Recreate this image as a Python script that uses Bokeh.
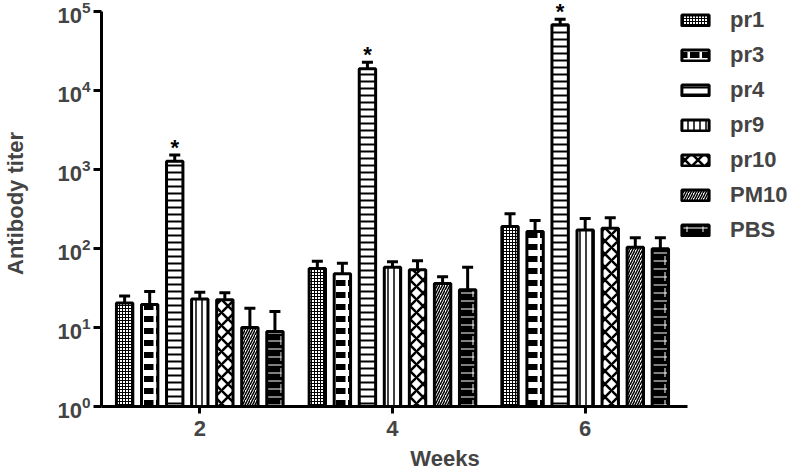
from bokeh.plotting import figure
from bokeh.models import Range1d, FixedTicker, Whisker, TeeHead, ColumnDataSource, Legend, LegendItem
from bokeh.embed import file_html
from bokeh.resources import INLINE
from bokeh.core.properties import value

# ---- data ----
weeks = [2, 4, 6]
groups = ["pr1", "pr3", "pr4", "pr9", "pr10", "PM10", "PBS"]
mean_pr1 = [20.5, 56, 190]
mean_pr3 = [19.5, 48, 164]
mean_pr4 = [1270, 18800, 68000]
mean_pr9 = [23, 58, 172]
mean_pr10 = [22.5, 54, 181]
mean_PM10 = [10, 36, 104]
mean_PBS = [8.9, 30, 99]
err_pr1 = [4.5, 13, 85]
err_pr3 = [9, 17, 62]
err_pr4 = [260, 4000, 12000]
err_pr9 = [5, 10, 68]
err_pr10 = [5, 16, 64]
err_PM10 = [7.5, 8, 33]
err_PBS = [7.1, 28, 38]
significant = ["pr4"]
y_ticks = [1, 10, 100, 1000, 10000, 100000]

means = [mean_pr1, mean_pr3, mean_pr4, mean_pr9, mean_pr10, mean_PM10, mean_PBS]
errs = [err_pr1, err_pr3, err_pr4, err_pr9, err_pr10, err_PM10, err_PBS]

# ---- styles (one or two hatch layers per series) ----
styles = {
    "pr1": [dict(fill_color="white", hatch_pattern="cross", hatch_scale=3, hatch_weight=1, hatch_color="black")],
    "pr3": [dict(fill_color="white", hatch_pattern="horizontal_dash", hatch_scale=12, hatch_weight=6, hatch_color="black")],
    "pr4": [dict(fill_color="white", hatch_pattern="horizontal_line", hatch_scale=7, hatch_weight=2, hatch_color="black")],
    "pr9": [dict(fill_color="white", hatch_pattern="vertical_line", hatch_scale=6, hatch_weight=1.5, hatch_color="black")],
    "pr10": [dict(fill_color="white", hatch_pattern="diagonal_cross", hatch_scale=13, hatch_weight=2.5, hatch_color="black")],
    "PM10": [dict(fill_color="white", hatch_pattern="right_diagonal_line", hatch_scale=5, hatch_weight=1.5, hatch_color="black")],
    "PBS": [dict(fill_color="black", hatch_pattern="horizontal_line", hatch_scale=8, hatch_weight=1, hatch_color="white"),
            dict(fill_alpha=0, hatch_pattern="vertical_dash", hatch_scale=16, hatch_weight=1, hatch_color="white")],
}

FONT = "Liberation Sans"
offset = 0.26
bar_w = 0.17

p = figure(width=788, height=473, y_axis_type="log",
           x_range=Range1d(0.98, 8.11), y_range=Range1d(1, 137900),
           output_backend="svg", toolbar_location=None,
           min_border_left=98, min_border_right=0, min_border_top=0, min_border_bottom=67)
p.outline_line_color = None
p.xgrid.visible = False
p.ygrid.visible = False

items = []
for i, g in enumerate(groups):
    xs = [w + (i - 3) * offset for w in weeks]
    ups = [m + e for m, e in zip(means[i], errs[i])]
    src = ColumnDataSource(dict(x=xs, top=means[i], upper=ups))
    rs = []
    for k, st in enumerate(styles[g]):
        last = k == len(styles[g]) - 1
        rs.append(p.vbar(x="x", top="top", bottom=1, width=bar_w, source=src,
                         line_color="black" if last else None, line_width=3, **st))
    items.append(LegendItem(label=g, renderers=rs))
    wk = Whisker(source=src, base="x", upper="upper", lower="top", dimension="height",
                 line_color="black", line_width=3,
                 upper_head=TeeHead(size=11, line_width=3, line_color="black"), lower_head=None)
    p.add_layout(wk)
    if g in significant:
        p.text(x=xs, y=ups, text=["*"] * len(xs), text_align="center", text_baseline="bottom",
               y_offset=5, text_font=value(FONT), text_font_style="bold", text_font_size="22px",
               text_color="black")

legend = Legend(items=items, location=(577, 163), orientation="vertical",
                glyph_width=34, glyph_height=14, label_height=22, spacing=9,
                label_standoff=18, padding=0, margin=0,
                label_text_font=FONT, label_text_font_style="bold", label_text_font_size="22px",
                background_fill_alpha=0, border_line_color=None)
p.add_layout(legend)

for ax in (p.xaxis, p.yaxis):
    ax.axis_line_width = 3
    ax.major_tick_line_width = 3
    ax.minor_tick_line_color = None
    ax.major_tick_in = 0
    ax.major_label_text_font = FONT
    ax.major_label_text_font_style = "bold"
    ax.major_label_text_font_size = "22px"
    ax.axis_label_text_font = FONT
    ax.axis_label_text_font_style = "bold"
    ax.axis_label_text_font_size = "22px"

p.xaxis.ticker = FixedTicker(ticks=weeks)
p.xaxis.bounds = (0.98, 7.06)
p.xaxis.major_tick_out = 7
p.xaxis.major_label_standoff = 7
p.xaxis.axis_label = "Weeks"
p.xaxis.axis_label_standoff = 7

p.yaxis.ticker = FixedTicker(ticks=y_ticks)
p.yaxis.bounds = (1, 100000)
p.yaxis.major_tick_out = 8
p.yaxis.major_label_standoff = 3
p.yaxis.axis_label = "Antibody titer"
p.yaxis.axis_label_standoff = 26

open("out.html", "w").write(file_html(p, INLINE))
